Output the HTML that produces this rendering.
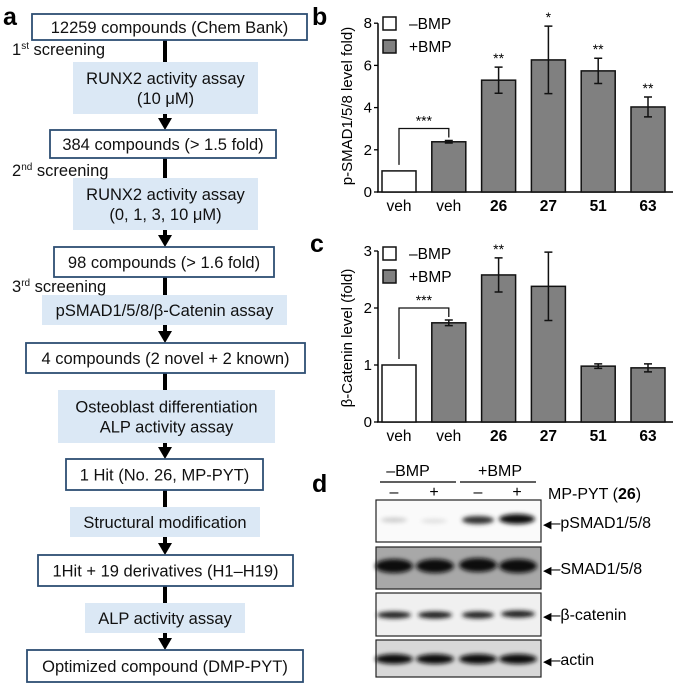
<!DOCTYPE html>
<html><head><meta charset="utf-8"><style>
html,body{margin:0;padding:0;background:#fff;}
svg{display:block;font-family:"Liberation Sans",Arial,sans-serif;}
</style></head><body>
<svg id="fig" width="675" height="686" viewBox="0 0 675 686" xmlns="http://www.w3.org/2000/svg">
<defs>
<filter id="blur" x="-20%" y="-100%" width="140%" height="300%"><feGaussianBlur stdDeviation="2"/></filter>
</defs>
<text x="3" y="25" font-size="25" font-weight="bold">a</text>
<text x="312" y="25" font-size="25" font-weight="bold">b</text>
<text x="310" y="252" font-size="25" font-weight="bold">c</text>
<text x="312" y="492" font-size="25" font-weight="bold">d</text>

<g id="flow" font-size="16.5" text-anchor="middle" fill="#111"></g>
<g id="chartB"></g>
<g id="chartC"></g>

<g id="blot" font-size="16">
  <text x="408" y="476" text-anchor="middle">–BMP</text>
  <line x1="380" y1="482" x2="456" y2="482" stroke="#000" stroke-width="1.3"/>
  <text x="500" y="476" text-anchor="middle">+BMP</text>
  <line x1="460" y1="482" x2="536" y2="482" stroke="#000" stroke-width="1.3"/>
  <text x="394" y="497" text-anchor="middle">–</text>
  <text x="434" y="497" text-anchor="middle">+</text>
  <text x="478" y="497" text-anchor="middle">–</text>
  <text x="517" y="497" text-anchor="middle">+</text>
  <text x="548" y="499">MP-PYT (<tspan font-weight="bold">26</tspan>)</text>
  <rect x="376" y="500" width="165" height="42" fill="#fafafa" stroke="#222" stroke-width="1.2"/>
  <g filter="url(#blur)">
    <ellipse cx="394" cy="520" rx="13" ry="2.5" fill="#ccc"/>
    <ellipse cx="434" cy="521" rx="13" ry="2" fill="#ddd"/>
    <ellipse cx="478" cy="520" rx="16" ry="4" fill="#333"/>
    <ellipse cx="517" cy="519" rx="18" ry="5" fill="#111"/>
  </g>
  <rect x="376" y="547" width="165" height="42" fill="#a8a8a8" stroke="#222" stroke-width="1.2"/>
  <g filter="url(#blur)">
    <ellipse cx="394" cy="566" rx="19" ry="7" fill="#080808"/>
    <ellipse cx="435" cy="566" rx="19" ry="7" fill="#0a0a0a"/>
    <ellipse cx="478" cy="565" rx="19" ry="7" fill="#0a0a0a"/>
    <ellipse cx="518" cy="566" rx="19" ry="7" fill="#111"/>
  </g>
  <rect x="376" y="593" width="165" height="43" fill="#f0f0f0" stroke="#222" stroke-width="1.2"/>
  <g filter="url(#blur)">
    <ellipse cx="394" cy="615" rx="17" ry="3.5" fill="#222"/>
    <ellipse cx="435" cy="615" rx="17" ry="3.5" fill="#1a1a1a"/>
    <ellipse cx="478" cy="615" rx="16" ry="3.5" fill="#222"/>
    <ellipse cx="518" cy="614" rx="17" ry="3.5" fill="#1a1a1a"/>
  </g>
  <rect x="376" y="640" width="165" height="37" fill="#d8d8d8" stroke="#222" stroke-width="1.2"/>
  <g filter="url(#blur)">
    <ellipse cx="394" cy="659" rx="19" ry="5" fill="#111"/>
    <ellipse cx="435" cy="659" rx="19" ry="5" fill="#111"/>
    <ellipse cx="478" cy="659" rx="19" ry="5" fill="#111"/>
    <ellipse cx="518" cy="659" rx="19" ry="5" fill="#111"/>
  </g>
  <text x="543" y="528"><tspan font-size="11">◀</tspan>–pSMAD1/5/8</text>
  <text x="543" y="574"><tspan font-size="11">◀</tspan>–SMAD1/5/8</text>
  <text x="543" y="620"><tspan font-size="11">◀</tspan>–β-catenin</text>
  <text x="543" y="665"><tspan font-size="11">◀</tspan>–actin</text>
</g>
</svg>
<script>
var categories = ["veh","veh","26","27","51","63"];
var boldCat = [false,false,true,true,true,true];
var bmpGroup = ["minus","plus","plus","plus","plus","plus"];
var psmadValues = [1.0, 2.38, 5.3, 6.26, 5.74, 4.03];
var psmadErrors = [0, 0.06, 0.62, 1.6, 0.6, 0.47];
var psmadStars = ["", "", "**", "*", "**", "**"];
var psmadTicks = [0,2,4,6,8];
var cateninValues = [1.0, 1.74, 2.58, 2.38, 0.98, 0.95];
var cateninErrors = [0, 0.05, 0.3, 0.6, 0.04, 0.07];
var cateninStars = ["", "", "**", "", "", ""];
var cateninTicks = [0,1,2,3];

var NS = "http://www.w3.org/2000/svg";
function mk(tag, attrs, parent, txt){
  var e = document.createElementNS(NS, tag);
  for (var k in attrs) e.setAttribute(k, attrs[k]);
  if (txt !== undefined) e.textContent = txt;
  parent.appendChild(e);
  return e;
}

function drawChart(g, vals, errs, stars, ticks, cfg){
  function y(v){ return cfg.base - v * cfg.ppu; }
  function xL(i){ return 382 + i * 49.8; }
  var bw = 34;
  var ax = mk("line",{x1:378,y1:y(ticks[ticks.length-1]),x2:378,y2:cfg.base,stroke:"#000","stroke-width":1.5},g);
  
  
  var xa = mk("line",{x1:377,y1:cfg.base,x2:673,y2:cfg.base,stroke:"#000","stroke-width":1.5},g);
  
  
  ticks.forEach(function(t){
    mk("line",{x1:374,y1:y(t),x2:378,y2:y(t),stroke:"#000","stroke-width":1.3},g);
    var tl = mk("text",{x:372,y:y(t)+5,"font-size":15,"text-anchor":"end"},g,String(t));
    
    
  });
  var yt = mk("text",{x:0,y:0,"font-size":15,"text-anchor":"middle",transform:"translate("+cfg.titleX+","+cfg.titleY+") rotate(-90)"},g,cfg.title);
  
  
  vals.forEach(function(v,i){
    var x = xL(i);
    var r = mk("rect",{x:x,y:y(v),width:bw,height:cfg.base-y(v),fill:bmpGroup[i]==="minus"?"#fff":"#808080",stroke:"#111","stroke-width":1.5},g);
    
    
    var cx = x + bw/2, e = errs[i];
    if (e > 0){
      var eb = mk("path",{d:"M"+cx+","+y(v+e)+"V"+y(v-e)+"M"+(cx-4)+","+y(v+e)+"H"+(cx+4)+"M"+(cx-4)+","+y(v-e)+"H"+(cx+4),stroke:"#111","stroke-width":1.5,fill:"none"},g);
      
      
    }
    if (stars[i]){
      var st = mk("text",{x:cx,y:y(v+e)-4,"font-size":14,"text-anchor":"middle"},g,stars[i]);
      
      
    }
    var xl = mk("text",{x:cx,y:cfg.base+19,"font-size":15.5,"text-anchor":"middle","font-weight":boldCat[i]?"bold":"normal"},g,categories[i]);
    
    
  });
  var c0 = xL(0)+bw/2, c1 = xL(1)+bw/2;
  var top1 = y(vals[1]+errs[1]);
  var by = top1 - cfg.brGap;
  var br = mk("path",{d:"M"+c0+","+(y(vals[0])-6)+"V"+by+"H"+c1+"V"+(top1-3),stroke:"#111","stroke-width":1.3,fill:"none"},g);
  
  
  var bs = mk("text",{x:(c0+c1)/2,y:by-3,"font-size":14,"text-anchor":"middle"},g,"***");
  
  
  var ly = cfg.legY;
  var l1 = mk("rect",{x:383,y:ly,width:13,height:13,fill:"#fff",stroke:"#111","stroke-width":1.5},g);
  
  
  var t1 = mk("text",{x:409,y:ly+12,"font-size":15.5},g,"–BMP");
  
  
  var l2 = mk("rect",{x:383,y:ly+23,width:13,height:13,fill:"#808080",stroke:"#111","stroke-width":1.5},g);
  
  
  var t2 = mk("text",{x:409,y:ly+35,"font-size":15.5},g,"+BMP");
  
  
}
drawChart(document.getElementById("chartB"), psmadValues, psmadErrors, psmadStars, psmadTicks,
  {base:192, ppu:21.1, title:"p-SMAD1/5/8 level fold)", titleX:352, titleY:106, legY:17, brGap:12});
drawChart(document.getElementById("chartC"), cateninValues, cateninErrors, cateninStars, cateninTicks,
  {base:422, ppu:57, title:"β-Catenin level (fold)", titleX:352, titleY:338, legY:247, brGap:12});

var flow = document.getElementById("flow");
var steps = [
  {t:"box", x1:32,x2:307,y1:14,y2:40, lines:["12259 compounds (Chem Bank)"]},
  {t:"blue",x1:73,x2:258,y1:62,y2:114, lines:["RUNX2 activity assay","(10 μM)"]},
  {t:"box", x1:50,x2:276,y1:130,y2:158, lines:["384 compounds (> 1.5 fold)"]},
  {t:"blue",x1:73,x2:258,y1:178,y2:230, lines:["RUNX2 activity assay","(0, 1, 3, 10 μM)"]},
  {t:"box", x1:54,x2:274,y1:247,y2:277, lines:["98 compounds (> 1.6 fold)"]},
  {t:"blue",x1:42,x2:287,y1:295,y2:325, lines:["pSMAD1/5/8/β-Catenin assay"]},
  {t:"box", x1:26,x2:305,y1:343,y2:373, lines:["4 compounds (2 novel + 2 known)"]},
  {t:"blue",x1:58,x2:275,y1:390,y2:443, lines:["Osteoblast differentiation","ALP activity assay"]},
  {t:"box", x1:66,x2:263,y1:459,y2:490, lines:["1 Hit (No. 26, MP-PYT)"]},
  {t:"blue",x1:70,x2:260,y1:507,y2:537, lines:["Structural modification"]},
  {t:"box", x1:38,x2:293,y1:555,y2:586, lines:["1Hit + 19 derivatives (H1–H19)"]},
  {t:"blue",x1:85,x2:245,y1:603,y2:633, lines:["ALP activity assay"]},
  {t:"box", x1:27,x2:303,y1:650,y2:682, lines:["Optimized compound (DMP-PYT)"]}
];
for (var i=0;i<steps.length-1;i++){
  var a = steps[i], b = steps[i+1];
  var ln = mk("line",{x1:165,y1:a.y2,x2:165,y2:b.y1-(b.t==="box"?9:0),stroke:"#000","stroke-width":4},flow);
  
  
  if (b.t==="box"){
    var ah = mk("path",{d:"M158,"+(b.y1-12)+"H172L165,"+b.y1+"Z",fill:"#000"},flow);
    
    
  }
}
steps.forEach(function(s,i){
  var r = mk("rect",{x:s.x1,y:s.y1,width:s.x2-s.x1,height:s.y2-s.y1,
    fill:s.t==="box"?"#fff":"#dbe8f5",stroke:s.t==="box"?"#2d4e73":"none","stroke-width":1.8},flow);
  
  
  var cy = (s.y1+s.y2)/2, n = s.lines.length;
  s.lines.forEach(function(L,j){
    var tt = mk("text",{x:(s.x1+s.x2)/2,y:cy+6+(j-(n-1)/2)*20},flow,L);
    
    
  });
});
var scr = [["1","st",55],["2","nd",176],["3","rd",292]];
scr.forEach(function(s){
  var t = mk("text",{x:12,y:s[2],"text-anchor":"start"},flow);
  
  
  mk("tspan",{},t,s[0]);
  mk("tspan",{"font-size":10,dy:-6},t,s[1]);
  mk("tspan",{dy:6},t," screening");
});
</script>
</body></html>
